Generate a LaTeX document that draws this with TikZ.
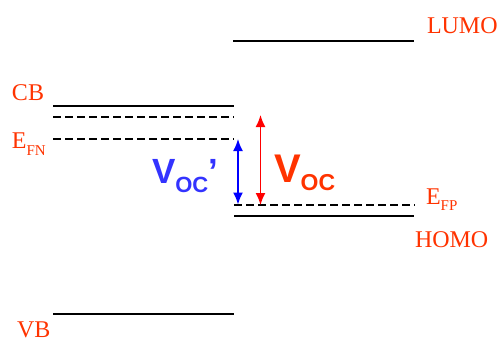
\documentclass[tikz,border=0pt]{standalone}
\usepackage{fontspec}
\setmainfont{Liberation Serif}
\newfontfamily\arialfont{Liberation Sans}
\usetikzlibrary{arrows.meta}
\definecolor{lbl}{RGB}{255,51,0}
\definecolor{arrred}{RGB}{255,0,0}
\definecolor{arrblue}{RGB}{0,0,255}
\definecolor{txtblue}{RGB}{51,51,255}
\tikzset{
  level/.style={line width=2pt},
  qlevel/.style={line width=1.6pt, dash pattern=on 8pt off 4pt},
  lab/.style={inner sep=0pt, outer sep=0pt, text=lbl, font=\fontsize{24}{24}\selectfont, anchor=base west},
  varrow/.style={line width=1.6pt, {Latex[length=12pt,width=10pt]}-{Latex[length=12pt,width=10pt]}},
  vlab/.style={inner sep=0pt, outer sep=0pt, anchor=base west, font=\arialfont\bfseries}
}
\begin{document}
\begin{tikzpicture}[x=1pt,y=-1pt]
\useasboundingbox (0,0) rectangle (501,341);
% levels
\coordinate (lumoL) at (233,41);
\coordinate (lumoR) at (414,41);
\coordinate (cbL) at (53,106);
\coordinate (cbR) at (234,106);
\coordinate (qL) at (53,117);
\coordinate (qR) at (234,117);
\coordinate (fnL) at (53,139);
\coordinate (fnR) at (234,139);
\coordinate (fpL) at (234,205);
\coordinate (fpR) at (415,205);
\coordinate (homoL) at (234,216);
\coordinate (homoR) at (414,216);
\coordinate (vbL) at (53,314);
\coordinate (vbR) at (234,314);
\draw[level] (lumoL) -- (lumoR);
\draw[level] (cbL) -- (cbR);
\draw[qlevel] (qL) -- (qR);
\draw[qlevel] (fnL) -- (fnR);
\draw[qlevel] (fpL) -- (fpR);
\draw[level] (homoL) -- (homoR);
\draw[level] (vbL) -- (vbR);
% labels
\node[lab] (lumo) at (427,33) {LUMO};
\node[lab] (cb) at (12,100) {CB};
\node[lab] (efn) at (12,148) {E\raisebox{-7pt}{\fontsize{15}{15}\selectfont FN}};
\node[lab] (efp) at (426,204) {E\raisebox{-6pt}{\fontsize{15}{15}\selectfont FP}};
\node[lab] (homo) at (415,247) {HOMO};
\node[lab] (vb) at (17,337) {VB};
% arrows
\coordinate (bT) at (238,139);
\coordinate (bB) at (238,204.5);
\coordinate (rT) at (260.5,115);
\coordinate (rB) at (260.5,205);
\draw[varrow, arrblue] (bT) -- (bB);
\draw[varrow, arrred] (rT) -- (rB);
\node[vlab, text=txtblue] (vocp) at (152,183) {\fontsize{35}{35}\selectfont V\raisebox{-9pt}{\fontsize{22}{22}\selectfont OC}’};
\node[vlab, text=lbl] (voc) at (274,182) {\fontsize{40}{40}\selectfont V\raisebox{-8pt}{\fontsize{23}{23}\selectfont OC}};
\end{tikzpicture}
\end{document}
